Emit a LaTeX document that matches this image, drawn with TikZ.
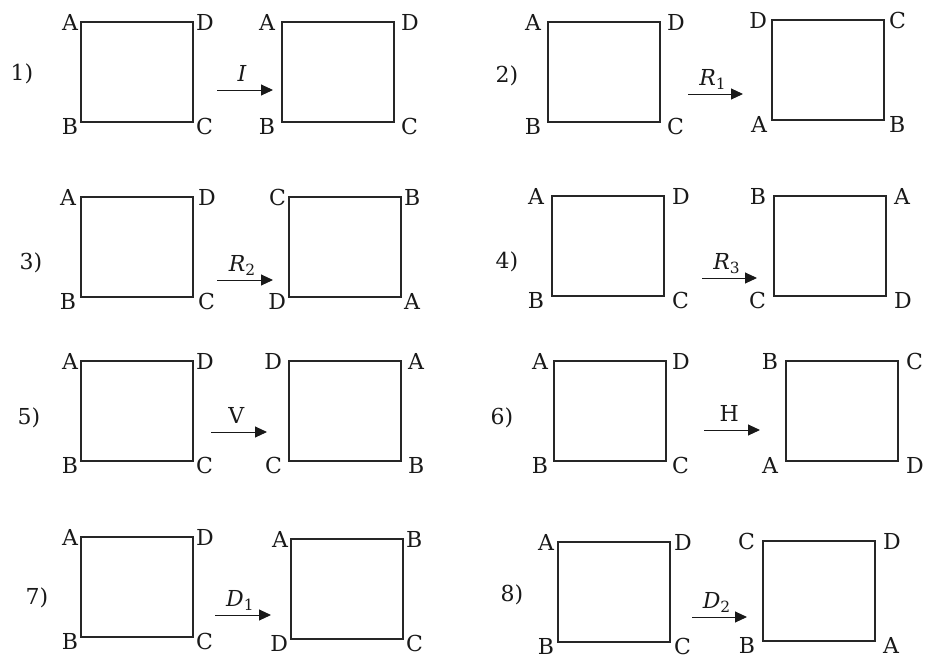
\documentclass[tikz,border=0pt]{standalone}
\usepackage{fontspec}
\setmainfont{DejaVu Serif}
\usetikzlibrary{arrows.meta}

\begin{document}
\begin{tikzpicture}[x=1pt, y=-1pt, >={Triangle[length=12pt, width=11pt]}]
    % Styles
    \tikzset{
        sq/.style={draw=black!85, line width=1.2pt, minimum width=112pt, minimum height=100pt,
                   inner sep=0pt, outer sep=0pt, anchor=north west},
        vx/.style={font=\fontsize{22}{26}\selectfont, text=black!90, inner sep=0pt, outer sep=0pt},
        num/.style={font=\fontsize{22}{26}\selectfont, text=black!90},
        arr/.style={->, line width=1pt, black!90},
    }
    \useasboundingbox (0,0) rectangle (927,659);

    % Macro: square with its four corner letters
    % \drawsq{name}{x}{y}{gap}{top left}{top right}{bottom left}{bottom right}
    \newcommand{\drawsq}[8]{
        \node[sq] (#1) at (#2,#3) {};
        \node[vx, anchor=east, xshift=-#4pt] (#1a) at (#1.north west) {#5};
        \node[vx, anchor=west, xshift=#4pt] (#1b) at (#1.north east) {#6};
        \node[vx, anchor=east, xshift=-#4pt, yshift=-4pt] (#1c) at (#1.south west) {#7};
        \node[vx, anchor=west, xshift=#4pt, yshift=-4pt] (#1d) at (#1.south east) {#8};
    }

    % Macro: arrow with its label
    % \drawarr{name}{x start}{x end}{y}{label}
    \newcommand{\drawarr}[5]{
        \coordinate (#1s) at (#2,#4);
        \coordinate (#1e) at (#3,#4);
        \draw[arr] (#1s) -- node[vx, pos=0.45, anchor=base, yshift=9pt] (#1l) {#5} (#1e);
    }
    \newcommand{\sub}[2]{\textit{#1}\textsubscript{#2}}

    % 1) I
    \node[num] (n1) at (22,74) {1)};
    \drawsq{p1l}{81}{22}{3}{A}{D}{B}{C}
    \drawarr{a1}{217}{273}{90}{\textit{I}}
    \drawsq{p1r}{282}{22}{7}{A}{D}{B}{C}

    % 2) R1
    \node[num] (n2) at (507,76) {2)};
    \drawsq{p2l}{548}{22}{7}{A}{D}{B}{C}
    \drawarr{a2}{688}{743}{94}{\sub{R}{1}}
    \drawsq{p2r}{772}{20}{5}{D}{C}{A}{B}

    % 3) R2
    \node[num] (n3) at (31,263) {3)};
    \drawsq{p3l}{81}{197}{5}{A}{D}{B}{C}
    \drawarr{a3}{217}{273}{280}{\sub{R}{2}}
    \drawsq{p3r}{289}{197}{3}{C}{B}{D}{A}

    % 4) R3
    \node[num] (n4) at (507,262) {4)};
    \drawsq{p4l}{552}{196}{8}{A}{D}{B}{C}
    \drawarr{a4}{702}{757}{278}{\sub{R}{3}}
    \drawsq{p4r}{774}{196}{8}{B}{A}{C}{D}

    % 5) V
    \node[num] (n5) at (29,418) {5)};
    \drawsq{p5l}{81}{361}{3}{A}{D}{B}{C}
    \drawarr{a5}{211}{267}{432}{V}
    \drawsq{p5r}{289}{361}{7}{D}{A}{C}{B}

    % 6) H
    \node[num] (n6) at (502,418) {6)};
    \drawsq{p6l}{554}{361}{6}{A}{D}{B}{C}
    \drawarr{a6}{704}{760}{430}{H}
    \drawsq{p6r}{786}{361}{8}{B}{C}{A}{D}

    % 7) D1
    \node[num] (n7) at (37,598) {7)};
    \drawsq{p7l}{81}{537}{3}{A}{D}{B}{C}
    \drawarr{a7}{215}{271}{615}{\sub{D}{1}}
    \drawsq{p7r}{291}{539}{3}{A}{B}{D}{C}

    % 8) D2
    \node[num] (n8) at (512,595) {8)};
    \drawsq{p8l}{558}{542}{4}{A}{D}{B}{C}
    \drawarr{a8}{692}{747}{617}{\sub{D}{2}}
    \drawsq{p8r}{763}{541}{8}{C}{D}{B}{A}

\end{tikzpicture}
\end{document}
